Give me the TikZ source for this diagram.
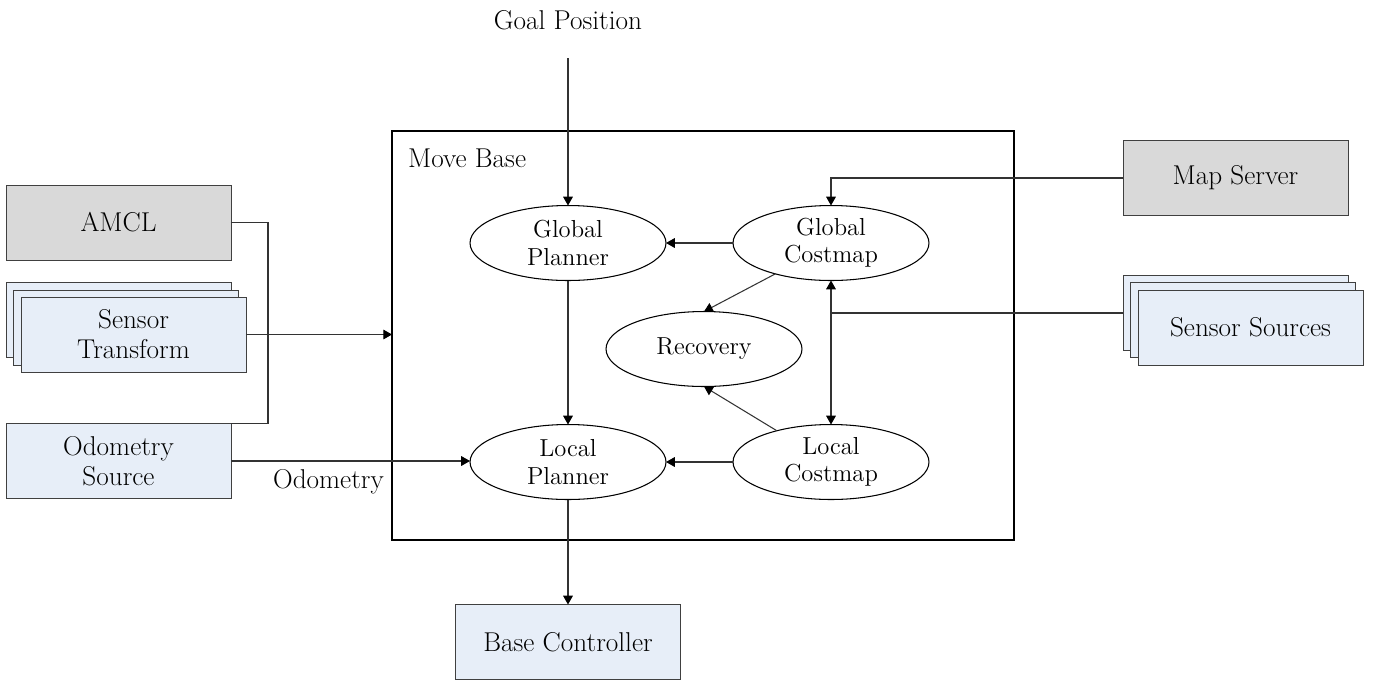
\documentclass[tikz,border=0pt]{standalone}
\usepackage{tikz}
\usetikzlibrary{calc,shapes.geometric,arrows.meta}

\definecolor{boxgray}{RGB}{217,217,217}
\definecolor{boxblue}{RGB}{231,238,248}
\definecolor{edgegray}{RGB}{64,64,64}

\tikzset{
	graybox/.style={draw=edgegray, fill=boxgray, minimum width=4.5cm, minimum height=1.5cm, inner sep=0pt, outer sep=0pt, align=center, font=\fontsize{15.5}{17}\selectfont},
	bluebox/.style={graybox, fill=boxblue},
	proc/.style={ellipse, draw, line width=0.6pt, minimum width=3.92cm, minimum height=1.5cm, inner sep=0pt, outer sep=0pt, align=center, font=\fontsize{14}{15.5}\selectfont},
	conn/.style={draw=black!80, line width=0.6pt},
	arr/.style={conn, -{Triangle[length=5pt,width=5.5pt,color=black]}},
	biarr/.style={conn, {Triangle[length=5pt,width=5.5pt,color=black]}-{Triangle[length=5pt,width=5.5pt,color=black]}},
}

\begin{document}
\begin{tikzpicture}[x=0.02cm, y=-0.02cm]
		%%%%% START %%%%%
		\useasboundingbox (0, 0) rectangle (1374, 681);
		
		% move base frame
		\node[draw, line width=1.1pt, minimum width=12.44cm, minimum height=8.18cm, inner sep=0pt, outer sep=0pt] (movebase) at (703, 335.5) {};
		\node[anchor=west, font=\fontsize{15.5}{17}\selectfont] (mblabel) at (402, 158) {Move Base};
		
		\node[proc] (gplan) at (568, 243) {Global\\Planner};
		\node[proc] (gcost) at (831, 243) {Global\\Costmap};
		\node[proc] (recov) at (704, 349) {Recovery};
		\node[proc] (lplan) at (568, 462) {Local\\Planner};
		\node[proc] (lcost) at (831, 462) {Local\\Costmap};
		
		% left side
		\node[graybox] (amcl) at (118.5, 222.5) {AMCL};
		\node[bluebox] (tfback) at (118.5, 320) {};
		\node[bluebox] (tfmid) at (126, 327.5) {};
		\node[bluebox] (tf) at (133.5, 334.5) {Sensor\\Transform};
		\node[bluebox] (odom) at (118.5, 461) {Odometry\\Source};
		\node[anchor=east, font=\fontsize{15.5}{17}\selectfont] (odomlabel) at (390, 482) {Odometry};
		
		% right side
		\node[graybox] (mapsrv) at (1235.5, 178) {Map Server};
		\node[bluebox] (ssback) at (1235.5, 313) {};
		\node[bluebox] (ssmid) at (1243, 320) {};
		\node[bluebox] (ss) at (1250.5, 327.5) {Sensor Sources};
		
		% top and bottom
		\node[font=\fontsize{15.5}{17}\selectfont] (goal) at (568, 20) {Goal Position};
		\coordinate (goalstart) at (568, 58);
		\node[bluebox] (basectl) at (568, 642) {Base Controller};
		
		% connections
		\draw[arr] (goalstart) -- (gplan);
		\draw[arr] (gcost) -- (gplan);
		\draw[arr] (gplan) -- (lplan);
		\draw[arr] (lcost) -- (lplan);
		\draw[arr] (gcost.209) -- (recov.north);
		\draw[arr] (lcost.150) -- (recov.south);
		\draw[biarr] (gcost.south) -- (lcost.north);
		\draw[arr] (lplan) -- (basectl);
		
		\draw[arr] (mapsrv.west) -| (gcost.north);
		\draw[conn] (ssback.west) -- (ssback.west -| gcost.south);
		
		\draw[conn] (amcl.east) -- ++(37, 0) |- (odom.north east);
		\draw[arr] (tf.east) -- (tf.east -| movebase.west);
		\draw[arr] (odom.east) -- (odom.east -| lplan.west);
		
		%%%%% END %%%%%
	\end{tikzpicture}
\end{document}
